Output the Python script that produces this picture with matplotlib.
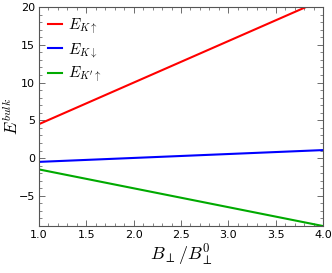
import matplotlib
matplotlib.use("Agg")
import matplotlib.pyplot as plt
from matplotlib.ticker import MultipleLocator

plt.rcParams['mathtext.fontset'] = 'cm'

B = [1.0, 4.0]
E_K_up = [4.5, 21.0]
E_K_down = [-0.5, 1.06]
E_Kp_up = [-1.5, -9.0]

fig = plt.figure(figsize=(3.32, 2.73), dpi=100)
ax = fig.add_axes([0.1175, 0.172, 0.8555, 0.802])
ax.plot(B, E_K_up, color='#ff0000', lw=1.5, label=r'$E_{K\uparrow}$')
ax.plot(B, E_K_down, color='#0000ff', lw=1.5, label=r'$E_{K\downarrow}$')
ax.plot(B, E_Kp_up, color='#00aa00', lw=1.5, label=r"$E_{K'\uparrow}$")
ax.set_xlim(1.0, 4.0)
ax.set_ylim(-9, 20)
ax.xaxis.set_major_locator(MultipleLocator(0.5))
ax.xaxis.set_minor_locator(MultipleLocator(0.1))
ax.yaxis.set_major_locator(MultipleLocator(5))
ax.yaxis.set_minor_locator(MultipleLocator(1))
ax.tick_params(which='both', direction='in', top=True, right=True, color='#555555', labelsize=8, pad=3)
ax.tick_params(which='major', length=4, width=0.6)
ax.tick_params(which='minor', length=2, width=0.5)
for s in ax.spines.values():
    s.set_color('#555555')
    s.set_linewidth(0.8)
ax.set_xlabel(r'$B_{\perp}/B_{\perp}^{0}$', fontsize=13, labelpad=2)
ax.set_ylabel(r'$E^{bulk}$', fontsize=12)
ax.yaxis.set_label_coords(-0.06, 0.5)
ax.legend(loc='upper left', frameon=False, fontsize=11, handlelength=0.9,
          handletextpad=0.4, labelspacing=0.35, borderaxespad=0.2,
          bbox_to_anchor=(0.0, 1.0))
fig.savefig('out.png', dpi=100)
